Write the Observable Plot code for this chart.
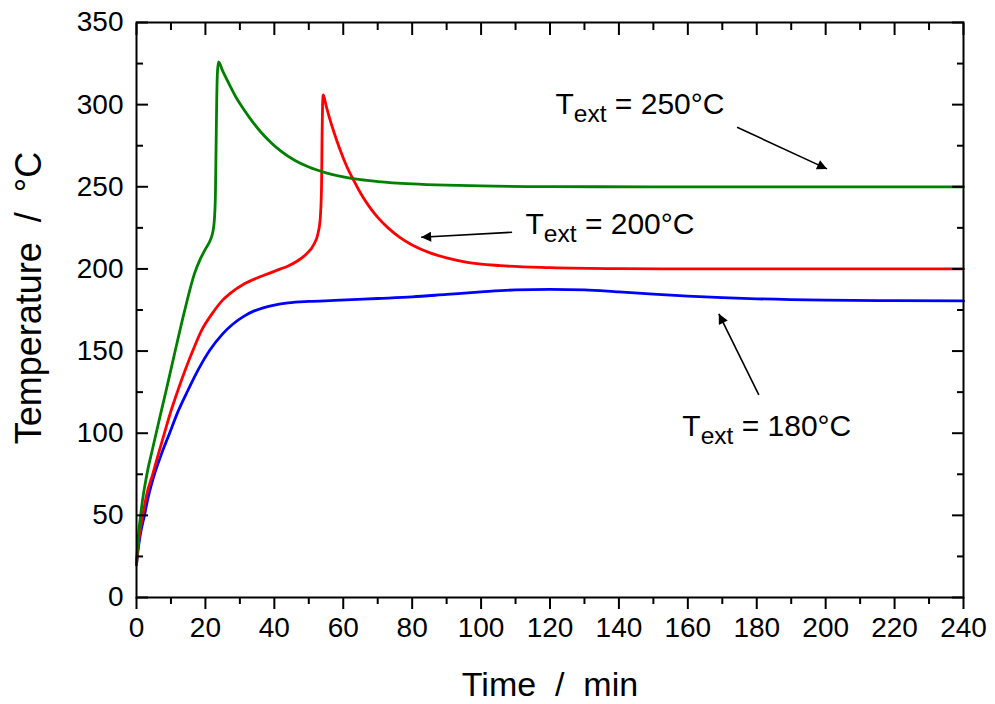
<!DOCTYPE html>
<html>
<head>
<meta charset="utf-8">
<script src="https://cdn.jsdelivr.net/npm/d3@7"></script>
<script src="https://cdn.jsdelivr.net/npm/@observablehq/plot@0.6"></script>
<style>
  body { margin: 0; background: #fff; }
  svg { display: block; }
</style>
</head>
<body>
<div id="chart"></div>
<script>
// ---- Data ----
const seriesNames = ["T_ext = 180°C", "T_ext = 200°C", "T_ext = 250°C"];
const seriesColors = ["#0000ff", "#ff0000", "#008000"];

// T_ext = 250°C (green)
const greenTime = [0, 0.3, 0.7, 1.2, 1.8, 2.5, 3.3, 4.5, 5.7, 8.6, 11, 13.9, 16.8, 18.5, 20, 21.5, 22.2, 22.6, 22.9, 23.1, 23.3, 23.5, 23.8,
  25, 27, 29, 31, 33, 36, 39, 42, 46, 50, 55, 60, 65, 70, 80, 90, 100, 120, 150, 240];
const greenTemp = [20, 31, 41, 50, 60, 69, 78, 89, 100, 126, 148, 174, 197, 206, 212, 218, 223, 230, 245, 275, 305, 320, 326,
  320.5, 312, 304, 297.5, 291.5, 283.5, 277, 271.5, 266, 262, 258.5, 256, 254.3, 253.2, 251.8, 251, 250.5, 250.1, 250, 250];

// T_ext = 200°C (red)
const redTime = [0, 0.4, 1, 1.8, 3, 4.7, 6.3, 8.1, 10, 12, 16.3, 19, 22.6, 25, 27, 31.3, 35, 38.1, 41.8, 44, 46.8, 49, 51.5, 52.6, 53.3, 53.7, 53.85, 54.0, 54.2,
  55, 56, 57.5, 59, 61, 63, 65, 67.5, 70, 73, 76.5, 80, 85, 90, 96, 105.6, 120, 140, 170, 240];
const redTemp = [20, 30, 40, 50, 63, 75, 87, 100, 113.5, 126, 150, 163, 174.7, 181, 184.8, 191, 194.5, 197, 200, 201.8, 205, 208.5, 215, 221, 230, 250, 280, 300, 306,
  299.5, 292, 282, 273, 262.5, 254, 246.2, 238.1, 231.4, 225, 219.1, 214.6, 209.9, 206.7, 204, 202, 200.8, 200.2, 200, 200];

// T_ext = 180°C (blue)
const blueTime = [0, 0.4, 1, 2.3, 3.5, 5.2, 7, 9.6, 12, 14.9, 18, 21.2, 25, 28, 31, 34, 37, 40, 44, 50, 57.5, 70, 80, 90, 100, 110, 120, 130, 140, 150, 160, 170, 180, 200, 220, 240];
const blueTemp = [20, 28, 37, 50, 62, 75, 86, 100, 113, 126, 139, 150.3, 160.5, 166.5, 171, 174.3, 176.5, 178, 179.3, 180.2, 180.8, 182, 183, 184.5, 186, 187.2, 187.5, 187.3, 186, 184.7, 183.5, 182.5, 181.8, 181, 180.7, 180.5];

// Axis ticks
const xMajor = [0, 20, 40, 60, 80, 100, 120, 140, 160, 180, 200, 220, 240];
const xMinor = [10, 30, 50, 70, 90, 110, 130, 150, 170, 190, 210, 230];
const yMajor = [0, 50, 100, 150, 200, 250, 300, 350];
const yMinor = [25, 75, 125, 175, 225, 275, 325];

// Axis titles
const xTitle = "Time\u00a0\u00a0/\u00a0\u00a0min";
const yTitle = "Temperature\u00a0\u00a0/\u00a0\u00a0°C";

// Annotations (label text position in data units, arrow start and tip in data units)
const annLabel = ["T_ext = 250°C", "T_ext = 200°C", "T_ext = 180°C"];
const annTextX = [121.6, 112.9, 158.4];
const annTextY = [294.4, 221.4, 98.6];
const arrowX1 = [174.3, 109.0, 180.6];
const arrowY1 = [286.2, 222.3, 123.4];
const arrowX2 = [200.4, 82.6, 169.0];
const arrowY2 = [260.9, 219.3, 172.7];

// ---- Build tables ----
const rows = [];
[[blueTime, blueTemp], [redTime, redTemp], [greenTime, greenTemp]].forEach(([ts, vs], i) => {
  ts.forEach((t, j) => rows.push({series: seriesNames[i], t, T: vs[j]}));
});
const annotations = annLabel.map((label, i) => ({label, x: annTextX[i], y: annTextY[i]}));
const arrows = arrowX1.map((x1, i) => ({x1, y1: arrowY1[i], x2: arrowX2[i], y2: arrowY2[i]}));

const FONT = "Arial, 'Liberation Sans', Helvetica, sans-serif";
const blank = () => "";

const chart = Plot.plot({
  width: 995,
  height: 704,
  marginLeft: 136,
  marginRight: 32,
  marginTop: 22,
  marginBottom: 107,
  style: {fontFamily: FONT, background: "white", color: "black"},
  x: {domain: [0, 240], label: null},
  y: {domain: [0, 350], label: null},
  color: {domain: seriesNames, range: seriesColors},
  marks: [
    Plot.line(rows, {x: "t", y: "T", z: "series", stroke: "series", strokeWidth: 2.8, curve: "monotone-x"}),
    Plot.link(arrows, {x1: "x1", y1: "y1", x2: "x2", y2: "y2", stroke: "black", strokeWidth: 1.6}),
    Plot.text(annotations, {x: "x", y: "y", text: "label", textAnchor: "start", lineAnchor: "bottom", fontSize: 30, fill: "black"}),
    // bottom axis (outward ticks)
    Plot.axisX({ticks: xMajor, anchor: "bottom", tickSize: 12, tickPadding: 8, fontSize: 28, strokeWidth: 2, label: null, tickFormat: d => String(d)}),
    Plot.axisX({ticks: xMinor, anchor: "bottom", tickSize: 7, strokeWidth: 2, label: null, tickFormat: blank}),
    // top axis (inward ticks)
    Plot.axisX({ticks: xMajor, anchor: "top", tickSize: -12, strokeWidth: 2, label: null, tickFormat: blank}),
    Plot.axisX({ticks: xMinor, anchor: "top", tickSize: -7, strokeWidth: 2, label: null, tickFormat: blank}),
    // left axis (inward ticks)
    Plot.axisY({ticks: yMajor, anchor: "left", tickSize: -12, tickPadding: 25, fontSize: 28, strokeWidth: 2, label: null, tickFormat: d => String(d)}),
    Plot.axisY({ticks: yMinor, anchor: "left", tickSize: -7, strokeWidth: 2, label: null, tickFormat: blank}),
    // right axis (inward ticks)
    Plot.axisY({ticks: yMajor, anchor: "right", tickSize: -12, strokeWidth: 2, label: null, tickFormat: blank}),
    Plot.axisY({ticks: yMinor, anchor: "right", tickSize: -7, strokeWidth: 2, label: null, tickFormat: blank}),
    Plot.frame({stroke: "black", strokeWidth: 2}),
    // axis titles
    Plot.text([xTitle], {frameAnchor: "bottom", dy: 98, lineAnchor: "bottom", textAnchor: "middle", fontSize: 34, fill: "black"}),
    Plot.text([yTitle], {frameAnchor: "left", dx: -96, dy: -12, rotate: -90, lineAnchor: "bottom", textAnchor: "middle", fontSize: 36, fill: "black"})
  ]
});

document.getElementById("chart").appendChild(chart);

// Filled arrowheads on the annotation links
const svg = d3.select(chart.tagName === "svg" ? chart : chart.querySelector("svg"));
const defs = svg.insert("defs", ":first-child");
defs.append("marker")
  .attr("id", "arrowhead")
  .attr("viewBox", "0 -5 10 10")
  .attr("refX", 10).attr("refY", 0)
  .attr("markerWidth", 16).attr("markerHeight", 10)
  .attr("markerUnits", "userSpaceOnUse")
  .attr("orient", "auto")
  .append("path").attr("d", "M0,-5L10,0L0,5Z").attr("fill", "black");
svg.selectAll("g[aria-label='link'] path").attr("marker-end", "url(#arrowhead)");

// Subscripts in the annotation labels ("T" + subscript "ext" + rest)
svg.selectAll("text").each(function() {
  const m = /^T_ext(.*)$/.exec(this.textContent);
  if (!m) return;
  const el = d3.select(this);
  el.text(null);
  el.append("tspan").text("T");
  el.append("tspan").attr("font-size", 24.5).attr("dy", 8.5).text("ext");
  el.append("tspan").attr("dy", -8.5).text(m[1]);
});
</script>
</body>
</html>
